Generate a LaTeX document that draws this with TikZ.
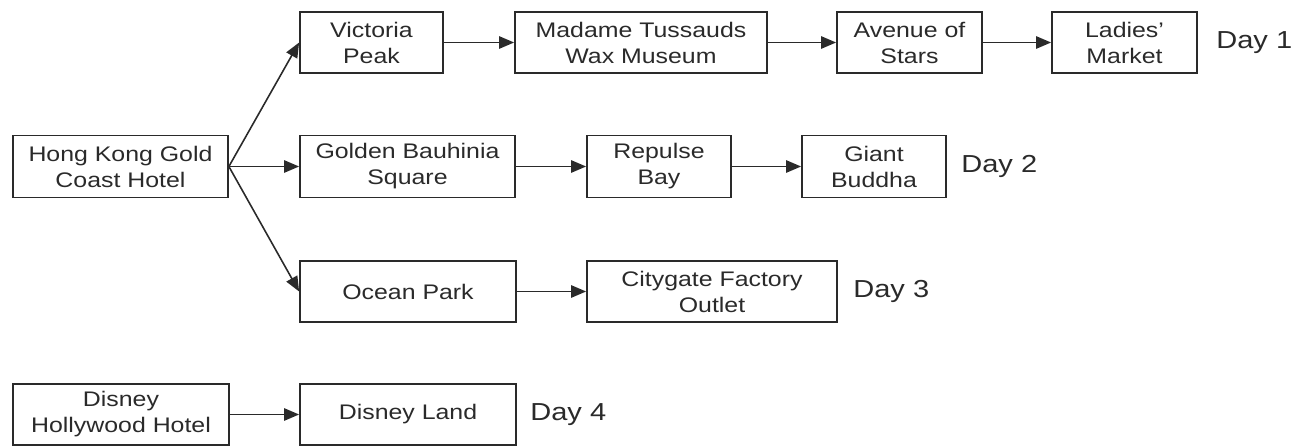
\documentclass[tikz,border=0pt]{standalone}
\usepackage{fontspec}
\setmainfont[FakeStretch=1.18]{Liberation Sans}
\usetikzlibrary{arrows.meta,
  positioning
}

\definecolor{ink}{HTML}{2A2A2A}

\begin{document}
\begin{tikzpicture}[
  spot/.style={draw=ink,line width=1,align=center,inner sep=0pt,
    text=ink,font=\fontsize{12}{14.8}\selectfont,
    minimum height=1.24cm},
  daylabel/.style={anchor=west,inner sep=0pt,text=ink,font=\fontsize{14}{16}\selectfont},
  route/.style={->,>={Triangle[length=8.5pt,width=7pt]},draw=ink,line width=0.9}]

  \useasboundingbox (0, 0) rectangle (26.06, -8.94);

  % start hotels
  \node[spot,minimum width=4.3cm] (GoldCoast) at (2.41, -3.33) {Hong Kong Gold\\Coast Hotel};
  \node[spot,minimum width=4.32cm,minimum height=1.22cm] (Hollywood) at (2.42, -8.29) {Disney\\Hollywood Hotel};

  % day 1
  \node[spot,minimum width=2.86cm,minimum height=1.22cm] (Peak) at (7.43, -0.85) {Victoria\\Peak};
  \node[spot,minimum width=5.04cm,minimum height=1.22cm] (Tussauds) at (12.82, -0.85) {Madame Tussauds\\Wax Museum};
  \node[spot,minimum width=2.9cm,minimum height=1.22cm] (Stars) at (18.19, -0.85) {Avenue of\\Stars};
  \node[spot,minimum width=2.9cm,minimum height=1.22cm] (Ladies) at (22.49, -0.85) {Ladies'\\Market};
  \node[daylabel] (DayOne) at (24.32, -0.85) {Day 1};

  % day 2
  \node[spot,minimum width=4.3cm] (Bauhinia) at (8.15, -3.33) {Golden Bauhinia\\Square};
  \node[spot,minimum width=2.88cm] (Repulse) at (13.18, -3.33) {Repulse\\Bay};
  \node[spot,minimum width=2.88cm] (Buddha) at (17.48, -3.33) {Giant\\Buddha};
  \node[daylabel] (DayTwo) at (19.22, -3.33) {Day 2};

  % day 3
  \node[spot,minimum width=4.32cm,minimum height=1.22cm] (Ocean) at (8.16, -5.83) {Ocean Park};
  \node[spot,minimum width=5.0cm,minimum height=1.22cm] (Citygate) at (14.24, -5.83) {Citygate Factory\\Outlet};
  \node[daylabel] (DayThree) at (17.06, -5.83) {Day 3};

  % day 4
  \node[spot,minimum width=4.32cm,minimum height=1.22cm] (DisneyLand) at (8.16, -8.29) {Disney Land};
  \node[daylabel] (DayFour) at (10.6, -8.29) {Day 4};

  \draw[route] (GoldCoast.east) -- (Peak.west);
  \draw[route] (GoldCoast.east) -- (Bauhinia.west);
  \draw[route] (GoldCoast.east) -- (Ocean.west);

  \draw[route] (Peak) -- (Tussauds);
  \draw[route] (Tussauds) -- (Stars);
  \draw[route] (Stars) -- (Ladies);

  \draw[route] (Bauhinia) -- (Repulse);
  \draw[route] (Repulse) -- (Buddha);

  \draw[route] (Ocean) -- (Citygate);

  \draw[route] (Hollywood) -- (DisneyLand);
\end{tikzpicture}
\end{document}
